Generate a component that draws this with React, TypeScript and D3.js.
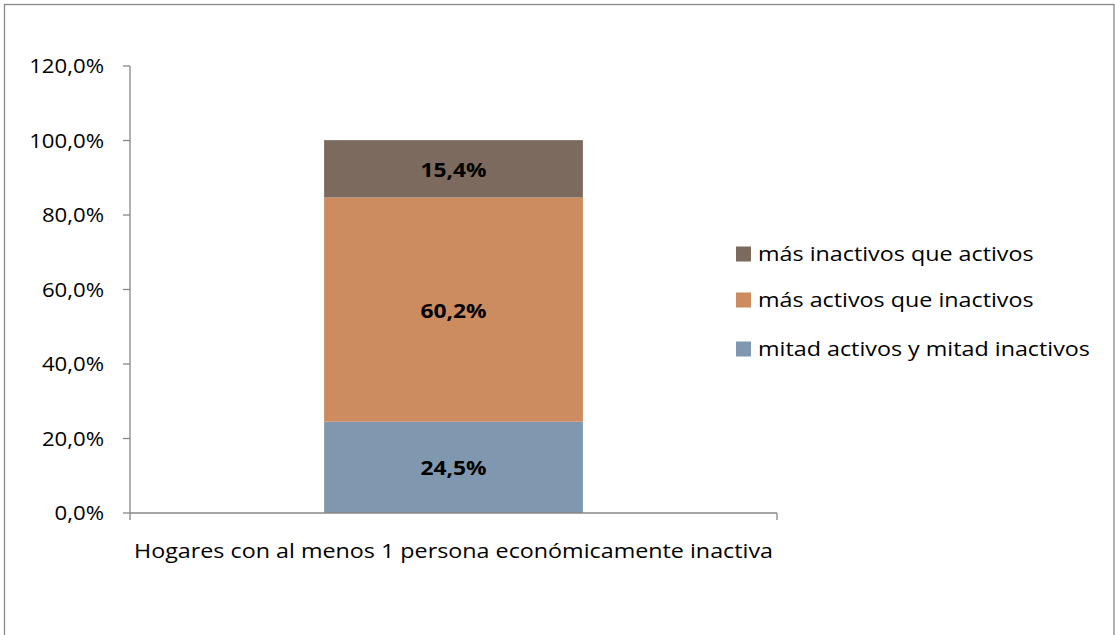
import React from "react";
import * as d3 from "d3";

const categories = ["Hogares con al menos 1 persona económicamente inactiva"];
const seriesNames = ["mitad activos y mitad inactivos", "más activos que inactivos", "más inactivos que activos"];
const seriesValues = [[24.5], [60.2], [15.4]];
const seriesColors = ["#7F98AF", "#CC8C5F", "#7C6A5E"];
const yTicks = [0, 20, 40, 60, 80, 100, 120];

const W = 1115, H = 635;
const FONT = "'Open Sans', sans-serif";

function SText(props: { x: number; y: number; sx: number; size: number; anchor?: string; bold?: boolean; children: React.ReactNode }) {
  return (
    <text
      transform={`translate(${props.x},${props.y}) scale(${props.sx},1)`}
      dy="0.35em"
      textAnchor={props.anchor || "start"}
      fontSize={props.size}
      fontWeight={props.bold ? "bold" : "normal"}
      fill="#000"
    >
      {props.children}
    </text>
  );
}

export default function App() {
  const x = d3.scaleBand().domain(categories).range([130, 777]).paddingInner(0).paddingOuter(0);
  const y = d3.scaleLinear().domain([0, 120]).range([513, 66]);
  const bw = x.bandwidth() * 0.4;
  const fmt = (v: number) => v.toFixed(1).replace(".", ",") + "%";

  const stacks: { key: number; y0: number; y1: number; v: number; cat: string }[] = [];
  categories.forEach((c, ci) => {
    let acc = 0;
    seriesValues.forEach((s, si) => {
      stacks.push({ key: si, y0: acc, y1: acc + s[ci], v: s[ci], cat: c });
      acc += s[ci];
    });
  });

  const legendOrder = [2, 1, 0];
  const legendY = [254, 300, 349];

  return (
    <svg width={W} height={H} style={{ position: "absolute", left: 0, top: 0, background: "#fff" }} fontFamily={FONT}>
      <rect x={4.5} y={4.5} width={1109.5} height={700} fill="#fff" stroke="#878787" strokeWidth={1.3} />
      {stacks.map((d, i) => {
        const cx = (x(d.cat) as number) + x.bandwidth() / 2;
        return (
          <g key={i}>
            <rect x={cx - bw / 2} y={y(d.y1)} width={bw} height={y(d.y0) - y(d.y1)} fill={seriesColors[d.key]} />
            <SText x={cx} y={(y(d.y0) + y(d.y1)) / 2 + 1} sx={1.14} size={20} anchor="middle" bold>
              {fmt(d.v)}
            </SText>
          </g>
        );
      })}
      {/* y axis */}
      <line x1={130} x2={130} y1={y(120)} y2={y(0)} stroke="#878787" strokeWidth={1.3} />
      {yTicks.map((t) => (
        <g key={t}>
          <line x1={123} x2={130} y1={y(t)} y2={y(t)} stroke="#878787" strokeWidth={1.3} />
          <SText x={104} y={y(t)} sx={1.11} size={20} anchor="end">
            {fmt(t)}
          </SText>
        </g>
      ))}
      {/* x axis */}
      <line x1={130} x2={777} y1={y(0)} y2={y(0)} stroke="#878787" strokeWidth={1.3} />
      {[130, 777].map((px) => (
        <line key={px} x1={px} x2={px} y1={y(0)} y2={y(0) + 7} stroke="#878787" strokeWidth={1.3} />
      ))}
      {categories.map((c) => (
        <SText key={c} x={(x(c) as number) + x.bandwidth() / 2} y={551} sx={1.165} size={20} anchor="middle">
          {c}
        </SText>
      ))}
      {/* legend */}
      {legendOrder.map((si, i) => (
        <g key={si}>
          <rect x={736} y={legendY[i] - 7.5} width={15} height={15} fill={seriesColors[si]} />
          <SText x={758} y={legendY[i]} sx={1.165} size={20}>
            {seriesNames[si]}
          </SText>
        </g>
      ))}
    </svg>
  );
}
